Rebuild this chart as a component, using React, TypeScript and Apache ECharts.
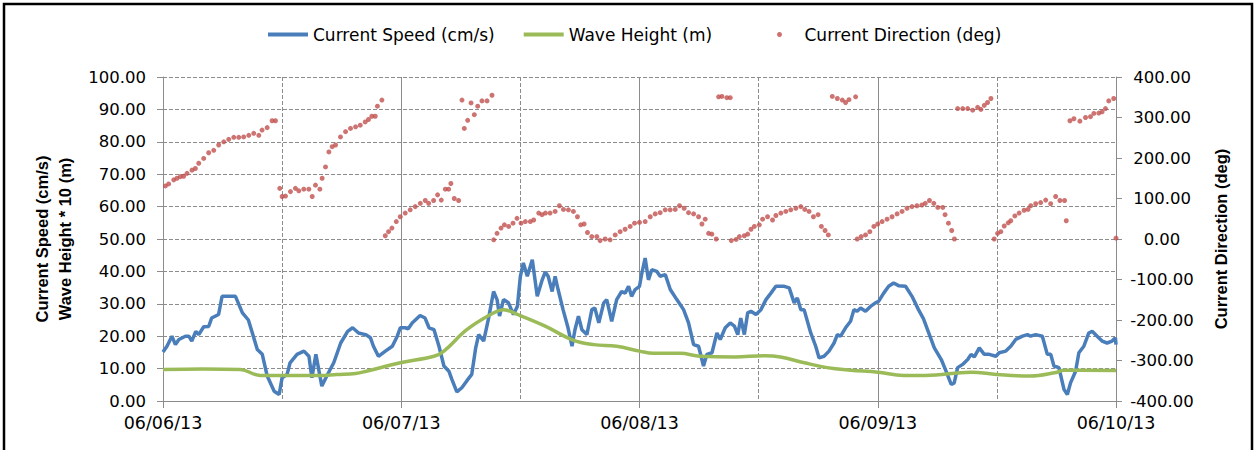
import React, { useEffect, useRef } from "react";
import * as echarts from "echarts";

// x values are hours since 06/06/13 00:00
const xTickLabels = ["06/06/13", "06/07/13", "06/08/13", "06/09/13", "06/10/13"];

const speedData: [number, number][] = [
  [0, 15.1], [0.4, 16.9], [0.9, 20], [1.25, 17.4], [1.6, 19], [2.25, 20], [2.6, 20], [2.9, 18.5], [3.3, 21.5], [3.6, 20.5],
  [4.1, 22.9], [4.6, 23], [4.9, 25.6], [5.6, 26.7], [5.95, 32.3], [7.3, 32.3], [8.0, 27.2], [8.6, 25], [9.0, 21], [9.5, 15.9],
  [10.0, 14.4], [10.5, 7.7], [11.2, 3], [11.7, 2], [12.0, 7.2], [12.5, 8.2], [12.8, 11.8], [13.5, 14.4], [14.2, 15.4], [14.7, 13.8],
  [15.0, 7.2], [15.4, 14.4], [16.0, 4.6], [16.5, 7.7], [17.2, 11.8], [17.9, 17.9], [18.6, 21.5], [19.1, 22.6], [19.7, 21], [20.4, 20.5],
  [20.9, 19.5], [21.2, 16.9], [21.7, 13.8], [22.4, 15.4], [23.1, 16.9], [23.6, 20], [23.9, 22.6], [24.4, 22.6], [24.7, 22.3], [25.1, 24.1],
  [25.9, 26.4], [26.4, 25.6], [26.8, 22.6], [27.3, 22], [27.8, 16.9], [28.3, 10.8], [28.8, 9.2], [29.1, 6.7], [29.6, 2.8], [30.1, 4.1],
  [30.6, 6.2], [31.1, 8.2], [31.5, 16.4], [31.8, 20.5], [32.3, 18.5], [32.8, 25.6], [33.3, 33.8], [33.65, 31.3], [33.9, 26.2], [34.3, 31.3],
  [34.8, 30.3], [35.3, 26.7], [35.7, 29.2], [36.0, 38.5], [36.3, 42.6], [36.7, 38.5], [37.2, 43.6], [37.7, 32.3], [38.2, 37.4], [38.5, 39.8],
  [38.8, 38.5], [39.2, 33.8], [39.5, 38.5], [39.8, 34.4], [40.3, 28.2], [40.8, 22.6], [41.2, 16.9], [41.5, 22], [41.85, 26.2], [42.2, 22],
  [42.7, 20.5], [43.2, 28.2], [43.5, 28.7], [43.9, 24.1], [44.4, 30.3], [44.7, 31.3], [45.2, 24.6], [45.7, 31.3], [46.2, 33.8], [46.55, 33.3],
  [46.9, 35.4], [47.2, 32.3], [47.56, 34.4], [48, 35.4], [48.24, 39.5], [48.57, 44.1], [48.9, 37.4], [49.24, 40.5], [49.75, 40], [50.08, 38.5],
  [50.6, 39], [51.1, 34.4], [51.76, 31.3], [52.44, 28.2], [52.94, 24.1], [53.45, 17.4], [53.95, 16.9], [54.45, 10.8], [54.79, 14.4], [55.3, 14.9],
  [55.8, 21], [56.13, 19], [56.64, 22.6], [57.14, 24.1], [57.56, 23.1], [57.9, 20.5], [58.2, 25.6], [58.56, 20.5], [58.9, 27.2], [59.23, 27.7],
  [59.73, 26.7], [60.23, 28.2], [60.74, 31.3], [61.24, 33.3], [61.74, 35.4], [62.58, 35.4], [63.08, 34.9], [63.58, 30.3], [63.9, 31.8], [64.25, 28.2],
  [64.58, 28.2], [65.25, 21], [65.75, 16.9], [66.09, 13.3], [66.59, 13.8], [67.09, 15.4], [67.6, 17.9], [67.93, 20.5], [68.26, 20], [68.76, 22.6],
  [69.26, 24.6], [69.6, 28.2], [69.93, 27.7], [70.27, 28.7], [70.77, 27.7], [71.27, 29.2], [71.77, 30.3], [72.1, 30.8], [72.6, 33.3], [73.1, 35.4],
  [73.6, 36.4], [74.1, 35.6], [74.8, 35.4], [75.45, 32.3], [76.1, 28.2], [76.6, 25.4], [77.2, 20.5], [77.7, 16.4], [78.4, 12.8], [78.88, 9.2],
  [79.4, 5.1], [79.7, 5.6], [80.05, 10.3], [80.55, 11.3], [81.06, 12.8], [81.4, 14.4], [81.73, 13.6], [82.23, 16.4], [82.73, 14.4], [83.23, 14.4],
  [83.9, 13.8], [84.23, 14.9], [84.9, 15.4], [85.4, 16.9], [85.9, 19], [86.58, 20], [87.08, 20.5], [87.4, 20], [87.9, 20.5], [88.58, 20],
  [89.08, 14.4], [89.42, 14.4], [89.75, 10.8], [90.25, 10.3], [90.76, 3.6], [91.1, 2], [91.42, 5.6], [91.93, 9.2], [92.26, 14.9], [92.76, 16.9],
  [93.26, 21], [93.6, 21.5], [94.1, 20], [94.6, 18.5], [95.1, 17.9], [95.6, 18.5], [95.94, 19.5], [96, 17.4],
];

const waveData: [number, number][] = [
  [0, 9.7], [4, 9.9], [7.8, 9.7], [9.8, 7.9], [12, 7.9], [15.8, 7.9], [17.5, 8.2], [19.4, 8.5], [20.5, 9.2], [23.9, 11.8],
  [27.3, 13.8], [28.3, 15.4], [30.6, 22], [33, 26.7], [34.3, 28.2], [35.7, 26.7], [38.5, 23.1], [41.3, 18.8], [43.4, 17.4], [45.7, 16.9],
  [48, 15.4], [49.4, 14.7], [52.1, 14.7], [54.1, 13.8], [57.6, 13.6], [60.6, 14], [62.2, 13.6], [64.6, 11.8], [66.9, 10.3], [69.3, 9.5],
  [72, 8.9], [74.6, 7.9], [76.8, 7.9], [81.4, 8.9], [84, 8.2], [87.4, 7.7], [89.8, 8.7], [90.8, 9.5], [96, 9.4],
];

const directionData: [number, number][] = [
  [0.24, 131], [0.57, 136], [1.08, 146], [1.41, 150], [1.75, 154], [2.08, 155], [2.42, 162], [2.92, 170], [3.26, 174], [3.6, 187],
  [4.1, 199], [4.6, 213], [5.11, 219], [5.61, 232], [6.12, 240], [6.62, 246], [7.13, 251], [7.63, 251], [8.13, 252], [8.64, 256],
  [9.14, 261], [9.65, 256], [9.98, 269], [10.49, 275], [10.99, 292], [11.33, 292],
  [11.76, 125], [12.0, 105], [12.34, 106], [12.84, 117], [13.34, 125], [13.68, 119], [14.18, 123], [14.69, 123], [15.03, 105], [15.36, 133],
  [15.8, 123], [16.03, 150], [16.37, 178], [16.71, 215], [17.04, 228], [17.38, 232], [17.88, 252], [18.39, 265], [18.89, 273], [19.4, 277],
  [19.87, 281], [20.37, 289], [20.7, 295], [21.04, 303], [21.38, 303], [21.6, 328], [22.05, 343],
  [22.39, 8], [22.72, 18], [23.06, 27], [23.5, 43], [23.9, 55], [24.4, 64], [24.9, 72], [25.41, 80], [25.92, 88], [26.42, 95],
  [26.76, 88], [27.26, 95], [27.66, 109], [28.03, 96], [28.44, 123], [28.77, 123], [29.0, 137], [29.34, 100], [29.78, 95],
  [30.12, 343], [30.35, 273], [30.69, 293], [31.03, 336], [31.36, 307], [31.7, 328], [32.13, 341], [32.64, 341], [33.14, 355],
  [33.31, -2], [33.65, 14], [34.05, 27], [34.39, 35], [34.82, 31], [35.26, 39], [35.66, 51], [36.07, 39], [36.5, 43], [37.0, 43],
  [37.34, 47], [37.85, 64], [38.18, 60], [38.52, 64], [38.99, 64], [39.5, 68], [39.93, 82], [40.34, 73], [40.84, 72], [41.34, 68],
  [41.75, 55], [42.08, 35], [42.42, 37], [42.76, 16], [43.19, 6], [43.7, 6], [44.03, -4], [44.54, 0], [45.04, -2], [45.55, 10],
  [46.05, 18], [46.55, 24], [47.06, 31], [47.5, 39], [48, 41], [48.57, 43], [49.08, 55], [49.58, 62], [50.08, 65], [50.59, 72],
  [51.09, 72], [51.6, 73], [52.03, 82], [52.5, 76], [52.94, 65], [53.45, 62], [53.95, 55], [54.29, 37], [54.62, 49], [54.96, 14],
  [55.29, 12], [55.73, 0],
  [55.97, 351], [56.3, 352], [56.8, 349], [57.14, 349],
  [57.25, -4], [57.73, -1], [58.06, 6], [58.56, 8], [58.9, 12], [59.23, 24], [59.57, 31], [60.07, 35], [60.4, 49], [60.9, 55],
  [61.4, 47], [61.74, 58], [62.24, 64], [62.74, 68], [63.24, 72], [63.75, 76], [64.25, 80], [64.65, 73], [65.08, 68], [65.52, 55],
  [65.99, 60], [66.32, 31], [66.69, 21], [67.02, 10],
  [67.42, 352], [67.93, 347], [68.43, 343], [68.76, 337], [69.1, 344], [69.77, 351],
  [69.93, 0], [70.33, 6], [70.77, 10], [71.2, 18], [71.61, 31], [72.0, 37], [72.44, 43], [72.94, 49], [73.44, 55], [73.95, 62],
  [74.45, 68], [74.95, 76], [75.45, 80], [75.95, 82], [76.45, 84], [76.79, 88], [77.21, 95], [77.65, 88], [78.05, 78], [78.55, 78],
  [78.78, 60], [79.12, 39], [79.45, 21], [79.72, 0],
  [80.05, 322], [80.56, 322], [81.06, 322], [81.56, 318], [82.06, 325], [82.39, 320], [82.73, 330], [83.06, 337], [83.4, 347],
  [83.73, 0], [84.07, 14], [84.4, 18], [84.74, 32], [85.14, 40], [85.4, 45], [85.81, 57], [86.24, 64], [86.74, 71], [87.14, 73],
  [87.41, 82], [87.91, 87], [88.41, 90], [88.92, 96], [89.42, 87], [89.92, 105], [90.35, 95], [90.82, 95], [90.99, 45],
  [91.36, 292], [91.76, 297], [92.36, 291], [92.93, 300], [93.43, 302], [93.77, 310], [94.27, 311], [94.6, 314], [94.94, 322], [95.27, 341],
  [95.77, 347],
  [96.0, 2],
];

const SPEED = "Current Speed (cm/s)";
const WAVE = "Wave Height (m)";
const DIR = "Current Direction (deg)";

export default function App() {
  const ref = useRef<HTMLDivElement>(null);
  useEffect(() => {
    if (!ref.current) return;
    const chart = echarts.init(ref.current, null, { renderer: "svg" });
    const tickFont = "DejaVu Sans";
    const gridColor = "#8c8c8c";
    chart.setOption({
      animation: false,
      backgroundColor: "#fff",
      graphic: [
        {
          type: "rect",
          shape: { x: 4, y: 4, width: 1248, height: 470 },
          style: { fill: "none", stroke: "#000", lineWidth: 2.5 },
          silent: true,
        },
      ],
      legend: [
        {
          data: [
            { name: SPEED, icon: "rect" },
            { name: WAVE, icon: "rect" },
          ],
          left: 263,
          top: 21,
          itemWidth: 40,
          itemHeight: 4,
          itemGap: 29,
          textStyle: { fontFamily: tickFont, fontSize: 17, color: "#000" },
        },
        {
          data: [DIR],
          left: 772,
          top: 21,
          itemWidth: 40,
          itemHeight: 5,
          textStyle: { fontFamily: tickFont, fontSize: 17, color: "#000" },
        },
      ],
      grid: { left: 163, right: 141, top: 77, bottom: 49, containLabel: false },
      xAxis: {
        type: "value",
        min: 0,
        max: 96,
        interval: 24,
        axisLine: { show: true, lineStyle: { color: gridColor, width: 1 } },
        axisTick: { show: true, length: 7, lineStyle: { color: gridColor } },
        minorTick: { show: false, splitNumber: 2 },
        axisLabel: {
          fontFamily: tickFont,
          fontSize: 17.5,
          color: "#000",
          margin: 13,
          formatter: (v: number) => xTickLabels[Math.round(v / 24)] ?? "",
        },
        splitLine: { show: true, lineStyle: { color: gridColor, width: 1, type: "solid" } },
        minorSplitLine: { show: true, lineStyle: { color: gridColor, width: 1, type: [4, 2] } },
      },
      yAxis: [
        {
          type: "value",
          min: 0,
          max: 100,
          interval: 10,
          position: "left",
          name: "Current Speed (cm/s)\nWave Height * 10 (m)",
          nameLocation: "middle",
          nameRotate: 90,
          nameGap: 87,
          nameTextStyle: {
            fontFamily: "Liberation Sans",
            fontWeight: "bold",
            fontSize: 16.5,
            lineHeight: 23,
            color: "#000",
          },
          axisLine: { show: true, lineStyle: { color: gridColor } },
          axisTick: { show: true, length: 6, lineStyle: { color: gridColor } },
          axisLabel: {
            fontFamily: tickFont,
            fontSize: 16.5,
            color: "#000",
            margin: 17,
            formatter: (v: number) => v.toFixed(2),
          },
          splitLine: { show: true, lineStyle: { color: gridColor, width: 1, type: [4, 2] } },
        },
        {
          type: "value",
          min: -400,
          max: 400,
          interval: 100,
          position: "right",
          alignTicks: false,
          name: "Current Direction (deg)",
          nameLocation: "middle",
          nameRotate: 90,
          nameGap: 96,
          nameTextStyle: {
            fontFamily: "Liberation Sans",
            fontWeight: "bold",
            fontSize: 16.5,
            color: "#000",
          },
          axisLine: { show: true, lineStyle: { color: gridColor } },
          axisTick: { show: true, length: 6, lineStyle: { color: gridColor } },
          axisLabel: {
            fontFamily: tickFont,
            fontSize: 16.5,
            color: "#000",
            margin: 46,
            align: "center",
            formatter: (v: number) => v.toFixed(2),
          },
          splitLine: { show: false },
        },
      ],
      series: [
        {
          name: SPEED,
          type: "line",
          yAxisIndex: 0,
          data: speedData,
          symbol: "none",
          lineStyle: { color: "#4a7ebb", width: 3.5 },
          itemStyle: { color: "#4a7ebb" },
          z: 2,
        },
        {
          name: WAVE,
          type: "line",
          yAxisIndex: 0,
          data: waveData,
          smooth: 0.4,
          symbol: "none",
          lineStyle: { color: "#9bbb59", width: 3.5 },
          itemStyle: { color: "#9bbb59" },
          z: 3,
        },
        {
          name: DIR,
          type: "scatter",
          yAxisIndex: 1,
          data: directionData,
          symbol: "circle",
          symbolSize: 5,
          itemStyle: { color: "#c0504d" },
          z: 4,
        },
      ],
    });
    return () => chart.dispose();
  }, []);
  return (
    <div
      ref={ref}
      style={{ position: "fixed", left: 0, top: 0, width: 1257, height: 450, background: "#fff" }}
    />
  );
}
